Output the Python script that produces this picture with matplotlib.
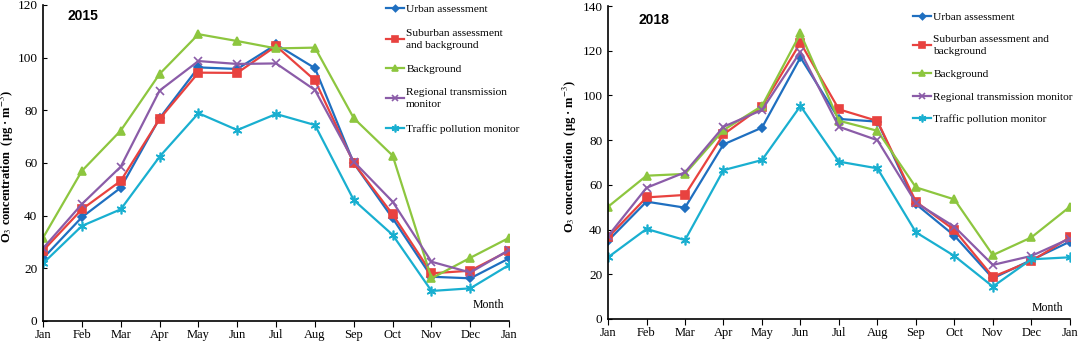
import matplotlib.pyplot as plt
import numpy as np

plt.rcParams['font.family'] = ['Liberation Serif', 'DejaVu Serif']
plt.rcParams['mathtext.fontset'] = 'stix'

months = ['Jan', 'Feb', 'Mar', 'Apr', 'May', 'Jun', 'Jul', 'Aug', 'Sep', 'Oct', 'Nov', 'Dec', 'Jan']

# 2015
urban_15 = [23.8, 39.4, 50.6, 77, 96.3, 95.7, 105, 96, 59.9, 39, 16.8, 16.2, 23.8]
suburb_15 = [26.7, 42.4, 53.2, 76.7, 94.3, 94.2, 104.4, 91.4, 59.9, 40.5, 18.1, 19.1, 26.7]
backgr_15 = [31.6, 57, 72.3, 93.8, 108.9, 106.3, 103.5, 103.8, 77, 62.8, 16.2, 24, 31.6]
region_15 = [27.6, 44.4, 58.6, 87.5, 98.7, 97.6, 97.8, 87.7, 60.5, 45.3, 22.5, 18.4, 27]
traffic_15 = [21.9, 36.1, 42.4, 62.4, 78.9, 72.5, 78.6, 74.4, 45.9, 32.7, 11.4, 12.4, 21.3]

# 2018
urban_18 = [35, 52.5, 49.8, 78.1, 85.6, 117, 89.5, 88.3, 51.4, 37.3, 18.2, 26.4, 34.6]
suburb_18 = [36.5, 54.4, 55.5, 82.6, 95, 123.6, 93.8, 88.6, 52.5, 39.8, 18.9, 25.9, 36.5]
backgr_18 = [50.2, 64.1, 64.9, 84.5, 95.3, 127.8, 88.7, 84.2, 58.9, 53.5, 28.6, 36.5, 50.2]
region_18 = [37.1, 58.7, 65.6, 86, 93.5, 119.6, 86, 80, 52, 41.3, 24.2, 28.2, 36]
traffic_18 = [27.6, 40.3, 35.3, 66.6, 71.1, 95.3, 70.4, 67.4, 38.8, 28.2, 14.5, 26.7, 27.6]

colors = ['#1f6fc0', '#e8423f', '#8dc63f', '#8b5ca8', '#19afd0']
markers = ['D', 's', '^', 'x', (6, 2, 0)]
msizes = [4, 6, 6, 6, 7]

labels_15 = ['Urban assessment', 'Suburban assessment\nand background', 'Background',
             'Regional transmission\nmonitor', 'Traffic pollution monitor']
labels_18 = ['Urban assessment', 'Suburban assessment and\nbackground', 'Background',
             'Regional transmission monitor', 'Traffic pollution monitor']

fig = plt.figure(figsize=(10.79, 3.45), dpi=100)
ax1 = fig.add_axes([0.0399, 0.0696, 0.432, 0.916])
ax2 = fig.add_axes([0.5635, 0.0754, 0.428, 0.907])

x = np.arange(len(months))

def draw(ax, series, labels, ymax, year, leg_anchor, leg_space, year_xy, month_xy, ylab_xy):
    for s, c, m, ms, lab in zip(series, colors, markers, msizes, labels):
        ax.plot(x, s, color=c, marker=m, markersize=ms, lw=1.6, label=lab,
                markeredgewidth=1.2)
    ax.set_xlim(0, 12)
    ax.set_ylim(0, ymax)
    ax.set_xticks(x)
    ax.set_xticklabels(months, fontsize=9)
    ax.set_yticks(np.arange(0, ymax + 1, 20))
    ax.tick_params(axis='y', labelsize=9.5, length=3, direction='in', pad=4)
    ax.tick_params(axis='x', length=4, direction='out', pad=2)
    for sp in ['top', 'right']:
        ax.spines[sp].set_visible(False)
    ax.spines['left'].set_linewidth(1.2)
    ax.spines['bottom'].set_linewidth(1.2)
    ax.set_ylabel(r'O$_3$ concentration  (μg · m$^{-3}$)', fontsize=9, fontweight='bold')
    ax.yaxis.set_label_coords(*ylab_xy)
    ax.text(year_xy[0], year_xy[1], year, transform=ax.transAxes, fontsize=10, fontweight='bold',
            family='Liberation Sans', va='center')
    ax.text(month_xy[0], month_xy[1], 'Month', transform=ax.transAxes, fontsize=8.5,
            ha='right', va='center')
    leg = ax.legend(loc='upper left', bbox_to_anchor=leg_anchor, frameon=False, fontsize=8.2,
                    handlelength=1.6, handletextpad=0.2, labelspacing=leg_space, borderpad=0,
                    markerscale=0.8)
    for t in leg.get_texts():
        t.set_linespacing(1.45)

draw(ax1, [urban_15, suburb_15, backgr_15, region_15, traffic_15], labels_15, 120, '2015',
     (0.723, 1.02), 1.25, (0.052, 0.965), (0.99, 0.05), (-0.058, 0.49))
draw(ax2, [urban_18, suburb_18, backgr_18, region_18, traffic_18], labels_18, 140, '2018',
     (0.648, 0.998), 1.12, (0.067, 0.955), (0.985, 0.035), (-0.063, 0.52))

fig.savefig('out.png', dpi=100)
